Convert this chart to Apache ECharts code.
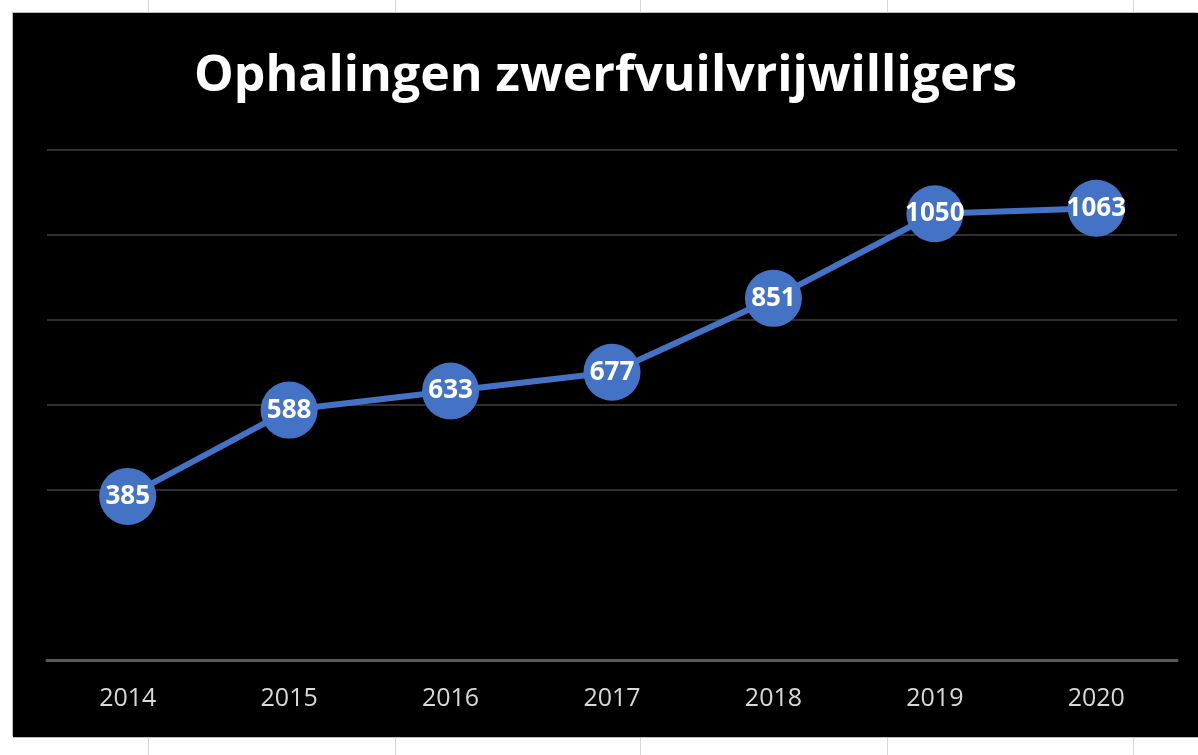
<!DOCTYPE html>
<html>
<head>
<meta charset="utf-8">
<script src="https://cdn.jsdelivr.net/npm/echarts@6/dist/echarts.min.js"></script>
<style>
  html, body { margin: 0; padding: 0; background: #ffffff; width: 1198px; height: 755px; overflow: hidden; position: relative; }
  .vl { position: absolute; width: 1px; background: #d8d8d8; }
  #box { position: absolute; left: 13px; top: 13px; width: 1185px; height: 724px; background: #000; box-shadow: -1px -1px 0 #bdbdbd, 0 1px 0 #bdbdbd; }
  #chart { width: 1185px; height: 724px; }
</style>
</head>
<body>
<div class="vl" style="left:148px;top:0;height:13px"></div>
<div class="vl" style="left:395px;top:0;height:13px"></div>
<div class="vl" style="left:640px;top:0;height:13px"></div>
<div class="vl" style="left:887px;top:0;height:13px"></div>
<div class="vl" style="left:1133px;top:0;height:13px"></div>
<div class="vl" style="left:148px;top:737px;height:18px"></div>
<div class="vl" style="left:395px;top:737px;height:18px"></div>
<div class="vl" style="left:640px;top:737px;height:18px"></div>
<div class="vl" style="left:887px;top:737px;height:18px"></div>
<div class="vl" style="left:1133px;top:737px;height:18px"></div>
<div id="box"><div id="chart"></div></div>
<script>
const titleText = 'Ophalingen zwerfvuilvrijwilligers';
const years = ['2014', '2015', '2016', '2017', '2018', '2019', '2020'];
const pickups = [385, 588, 633, 677, 851, 1050, 1063];
const yMin = 0, yMax = 1200, yStep = 200;

const chart = echarts.init(document.getElementById('chart'));
chart.setOption({
  backgroundColor: '#000000',
  animation: false,
  title: {
    text: titleText,
    left: 'center',
    top: 34,
    textStyle: { color: '#ffffff', fontFamily: 'Open Sans', fontWeight: 'bold', fontSize: 50 }
  },
  grid: { left: 34, right: 21, top: 137, bottom: 77 },
  xAxis: {
    type: 'category',
    data: years,
    boundaryGap: true,
    axisLine: { show: true, lineStyle: { color: '#595959', width: 3 } },
    axisTick: { show: false },
    axisLabel: { color: '#d9d9d9', fontFamily: 'Open Sans', fontSize: 25, margin: 26 }
  },
  yAxis: {
    type: 'value',
    min: yMin, max: yMax, interval: yStep,
    axisLine: { show: false },
    axisTick: { show: false },
    axisLabel: { show: false },
    splitLine: { show: true, lineStyle: { color: ['rgba(0,0,0,0)', 'rgba(0,0,0,0)', '#404040', '#404040', '#404040', '#404040', '#404040'], width: 1.5 } }
  },
  series: [{
    type: 'line',
    data: pickups,
    symbol: 'circle',
    symbolSize: 57,
    itemStyle: { color: '#4472c4' },
    lineStyle: { color: '#4472c4', width: 6 },
    label: {
      show: true,
      position: 'inside',
      color: '#ffffff',
      fontFamily: 'Open Sans',
      fontWeight: 'bold',
      fontSize: 26
    }
  }]
});
</script>
</body>
</html>
